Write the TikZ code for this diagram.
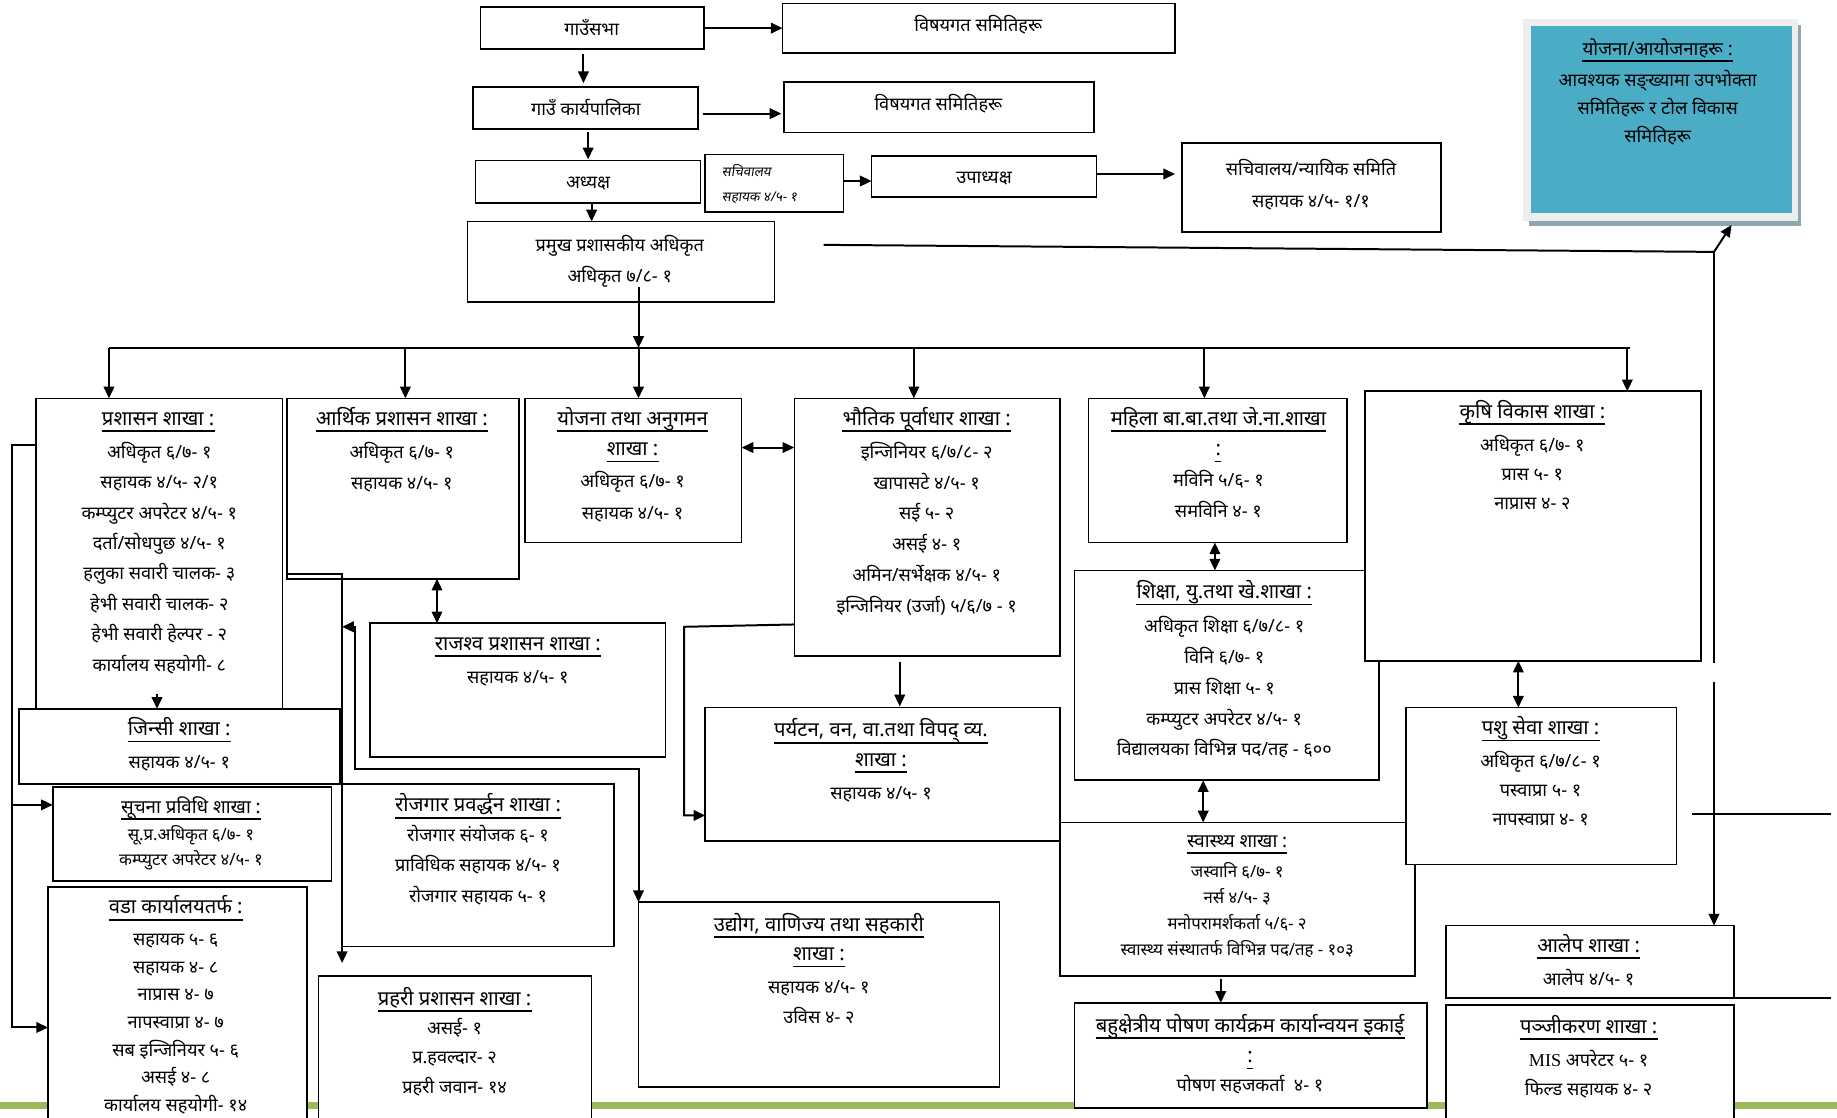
\documentclass[tikz,border=0pt]{standalone}
\usepackage{fontspec}
\setmainfont{Noto Sans}[Script=Devanagari]
\newfontfamily\devslant{Noto Sans}[Script=Devanagari,FakeSlant=0.15]
\newfontfamily\serifmis{Liberation Serif}
\usetikzlibrary{arrows.meta,calc}
\definecolor{aqua}{RGB}{75,172,198}
\definecolor{shadowc}{RGB}{142,166,176}
\definecolor{lightb}{RGB}{238,238,238}
\definecolor{grn}{RGB}{155,187,89}
\tikzset{
 box/.style={draw=black,fill=white,line width=1.4pt,inner sep=0pt,outer sep=0pt},
 ln/.style={line width=1.7pt},
 ar/.style={line width=1.7pt,-{Triangle[length=10pt,width=9pt]}},
 dar/.style={line width=1.7pt,{Triangle[length=10pt,width=9pt]}-{Triangle[length=10pt,width=9pt]}},
 txt/.style={inner sep=0pt,font=\fontsize{15.5}{18}\selectfont},
 small/.style={font=\fontsize{14.3}{16}\selectfont},
 ttl/.style={inner sep=0pt,font=\bfseries\fontsize{17.3}{20}\selectfont},
 smallttl/.style={font=\bfseries\fontsize{16}{18}\selectfont},
 uline/.style={line width=1.5pt},
}
\newcommand\OBox[5]{\node[box,anchor=north west,minimum width={(#4-#2)*1pt},minimum height={(#5-#3)*1pt}] (#1) at (#2,#3) {};}
\newcommand\Tl[5][]{\node[txt,#1,anchor=base] (#2) at (#3,#4) {#5};}
\newcommand\Ttl[5][]{\node[ttl,#1,anchor=base] (#2) at (#3,#4) {#5};
 \draw[uline] ([yshift=-5pt]#2.base west) -- ([yshift=-5pt]#2.base east);}
\newcommand\Lines[6][]{\foreach \s [count=\i] in {#6} {\node[txt,#1,anchor=base] (#2\i) at (#3,{#4+5+(\i-1)*#5}) {\s};}}
\begin{document}
\begin{tikzpicture}[x=1pt,y=-1pt]
\clip (0,0) rectangle (1568,954);
\fill[white] (0,0) rectangle (1568,954);
\fill[grn] (0,940.5) rectangle (1568,946.5);
% ---------- boxes ----------
\OBox{sabha}{410}{6}{601}{42}
\OBox{viA}{668}{3}{1003}{45}
\OBox{karya}{404}{74}{596}{110}
\OBox{viB}{669}{70}{934}{113}
\OBox{adhy}{406}{137}{598}{173}
\OBox{sach}{602}{132}{720}{181}
\OBox{upa}{744}{133}{936}{168}
\OBox{nyay}{1009}{122}{1230}{198}
\fill[shadowc] (1305,21) rectangle (1537,193);
\fill[lightb] (1300,16) rectangle (1535,189);
\node[fill=aqua,inner sep=0pt,anchor=north west,minimum width=222pt,minimum height=160pt] (yoj) at (1307,22) {};
\OBox{cao}{399}{189}{661}{258}
\OBox{prash}{31}{340}{241}{605}
\OBox{arth}{245}{340}{443}{494}
\OBox{yojana}{448}{340}{633}{463}
\OBox{bhau}{678}{340}{905}{560}
\OBox{mahila}{929}{340}{1150}{463}
\OBox{shiksha}{917}{487}{1177}{666}
\OBox{krishi}{1165}{334}{1452}{564}
\OBox{jinsi}{16}{605}{290}{669}
\OBox{suchana}{45}{672}{283}{752}
\OBox{wada}{41}{757}{262}{965}
\OBox{raj}{316}{532}{568}{646}
\OBox{rojgar}{292}{669}{524}{808}
\OBox{prahari}{272}{833}{505}{965}
\OBox{udyog}{545}{770}{853}{928}
\OBox{parya}{602}{604}{905}{718}
\OBox{swas}{905}{702}{1208}{833}
\OBox{bahu}{917}{856}{1218}{946}
\OBox{pashu}{1200}{604}{1431}{738}
\OBox{alep}{1234}{790}{1480}{852}
\OBox{panji}{1234}{858}{1480}{965}
% ---------- texts ----------
\Tl{tsabha}{505}{30}{गाउँसभा}
\Tl{tviA}{835}{27}{विषयगत समितिहरू}
\Tl{tkarya}{500}{99}{गाउँ कार्यपालिका}
\Tl{tviB}{801}{94}{विषयगत समितिहरू}
\Tl{tadhy}{502}{161}{अध्यक्ष}
\node[inner sep=0pt,anchor=base west,font=\devslant\bfseries\fontsize{11.5}{13}\selectfont] (ts1) at (616,151) {सचिवालय};
\node[inner sep=0pt,anchor=base west,font=\devslant\bfseries\fontsize{11.5}{13}\selectfont] (ts2) at (616,172) {सहायक ४/५- १};
\Tl{tupa}{840}{157}{उपाध्यक्ष}
\Lines{tny}{1119}{145}{27}{सचिवालय/न्यायिक समिति,सहायक ४/५- १/१}
\Ttl[smallttl]{tyoj}{1415}{47}{योजना/आयोजनाहरू :}
\Lines{tyj}{1415}{69}{24}{आवश्यक सङ्ख्यामा उपभोक्ता,समितिहरू र टोल विकास,समितिहरू}
\Lines{tcao}{529}{210}{26}{प्रमुख प्रशासकीय अधिकृत,अधिकृत ७/८- १}
\Ttl{tprash}{135}{363}{प्रशासन शाखा :}
\Lines{tpr}{136}{386}{26}{अधिकृत ६/७- १,सहायक ४/५- २/१,कम्प्युटर अपरेटर ४/५- १,दर्ता/सोधपुछ ४/५- १,हलुका सवारी चालक- ३,हेभी सवारी चालक- २,हेभी सवारी हेल्पर - २,कार्यालय सहयोगी- ८}
\Ttl{tarth}{343}{363}{आर्थिक प्रशासन शाखा :}
\Lines{tar}{343}{386}{27}{अधिकृत ६/७- १,सहायक ४/५- १}
\Ttl{tyojana}{540}{363}{योजना तथा अनुगमन}
\Ttl{tyojanb}{540}{389}{शाखा :}
\Lines{tyo}{540}{411}{27}{अधिकृत ६/७- १,सहायक ४/५- १}
\Ttl{tbhau}{791}{363}{भौतिक पूर्वाधार शाखा :}
\Lines{tbh}{791}{386}{26.4}{इन्जिनियर ६/७/८- २,खापासटे ४/५- १,सई ५- २,असई ४- १,अमिन/सर्भेक्षक ४/५- १,इन्जिनियर (उर्जा) ५/६/७ - १}
\Ttl{tmahila}{1040}{363}{महिला बा.बा.तथा जे.ना.शाखा}
\Ttl{tmahilb}{1040}{389}{:}
\Lines{tma}{1040}{410}{27}{मविनि ५/६- १,समविनि ४- १}
\Ttl{tkrishi}{1308}{357}{कृषि विकास शाखा :}
\Lines{tkr}{1308}{380}{25}{अधिकृत ६/७- १,प्रास ५- १,नाप्रास ४- २}
\Ttl{tshiksha}{1045}{511}{शिक्षा, यु.तथा खे.शाखा :}
\Lines{tsh}{1045}{535}{26.3}{अधिकृत शिक्षा ६/७/८- १,विनि ६/७- १,प्रास शिक्षा ५- १,कम्प्युटर अपरेटर ४/५- १,विद्यालयका विभिन्न पद/तह - ६००}
\Ttl{tjinsi}{153}{628}{जिन्सी शाखा :}
\Lines{tji}{153}{651}{26}{सहायक ४/५- १}
\Ttl[smallttl]{tsuchana}{163}{694}{सूचना प्रविधि शाखा :}
\Lines[small]{tsu}{163}{712}{22}{सू.प्र.अधिकृत ६/७- १,कम्प्युटर अपरेटर ४/५- १}
\Ttl{twada}{150}{780}{वडा कार्यालयतर्फ :}
\Lines{twa}{150}{802}{23.6}{सहायक ५- ६,सहायक ४- ८,नाप्रास ४- ७,नापस्वाप्रा ४- ७,सब इन्जिनियर ५- ६,असई ४- ८,कार्यालय सहयोगी- १४}
\Ttl{traj}{442}{555}{राजश्व प्रशासन शाखा :}
\Lines{tra}{442}{578}{26}{सहायक ४/५- १}
\Ttl{trojgar}{408}{693}{रोजगार प्रवर्द्धन शाखा :}
\Lines{tro}{408}{713}{26}{रोजगार संयोजक ६- १,प्राविधिक सहायक ४/५- १,रोजगार सहायक ५- १}
\Ttl{tprahari}{388}{858}{प्रहरी प्रशासन शाखा :}
\Lines{tph}{388}{878}{25}{असई- १,प्र.हवल्दार- २,प्रहरी जवान- १४}
\Ttl{tudyoga}{699}{795}{उद्योग, वाणिज्य तथा सहकारी}
\Ttl{tudyogb}{699}{820}{शाखा :}
\Lines{tud}{699}{843}{26}{सहायक ४/५- १,उविस ४- २}
\Ttl{tparyaa}{752}{629}{पर्यटन, वन, वा.तथा विपद् व्य.}
\Ttl{tparyab}{752}{654}{शाखा :}
\Lines{tpa}{752}{677}{26}{सहायक ४/५- १}
\Ttl[smallttl]{tswas}{1056}{723}{स्वास्थ्य शाखा :}
\Lines[small]{tsw}{1056}{744}{22.3}{जस्वानि ६/७- १,नर्स ४/५- ३,मनोपरामर्शकर्ता ५/६- २,स्वास्थ्य संस्थातर्फ विभिन्न पद/तह - १०३}
\Ttl{tbahua}{1067}{881}{बहुक्षेत्रीय पोषण कार्यक्रम कार्यान्वयन इकाई}
\Ttl{tbahub}{1067}{907}{:}
\Tl{tbahuc}{1067}{932}{पोषण सहजकर्ता\ \ ४- १}
\Ttl{tpashu}{1315}{627}{पशु सेवा शाखा :}
\Lines{tps}{1315}{650}{25}{अधिकृत ६/७/८- १,पस्वाप्रा ५- १,नापस्वाप्रा ४- १}
\Ttl{talep}{1356}{813}{आलेप शाखा :}
\Lines{tal}{1356}{836}{26}{आलेप ४/५- १}
\Ttl{tpanji}{1356}{882}{पञ्जीकरण शाखा :}
\Lines{tpj}{1356}{905}{25}{{\serifmis MIS} अपरेटर ५- १,फिल्ड सहायक ४- २}
% ---------- connectors ----------
\draw[ar] (sabha.east) -- (sabha.east -| viA.west);
\draw[ar,shorten <=4pt,shorten >=3pt] ([xshift=-7.5pt]sabha.south) -- ([xshift=-7.5pt]sabha.south |- karya.north);
\draw[ar,shorten <=4pt,shorten >=2pt] ([yshift=-5pt]karya.east) -- ([yshift=-5pt]karya.east -| viB.west);
\draw[ar,shorten <=3pt,shorten >=1pt] ([xshift=2pt]karya.south) -- ([xshift=2pt]karya.south |- adhy.north);
\draw[ar] ([yshift=2pt]sach.east) -- ([yshift=2pt]sach.east -| upa.west);
\draw[ar,shorten >=6pt] ([yshift=2pt]upa.east) -- ([yshift=2pt]upa.east -| nyay.west);
\draw[ar] ([xshift=3pt]adhy.south) -- ([xshift=3pt]adhy.south |- cao.north);
\coordinate (caoOut) at (545,245);
\coordinate (busL) at (93,297);
\coordinate (busR) at (1391,297);
\coordinate (b2) at (346,297);
\coordinate (busC) at (545,297);
\coordinate (b4) at (780,297);
\coordinate (b5) at (1028,297);
\coordinate (b6) at (1389,297);
\draw[ar] (caoOut) -- (busC);
\draw[ln] (busL) -- (busR);
\draw[ar] (busL) -- (busL |- prash.north);
\draw[ar] (b2) -- (b2 |- arth.north);
\draw[ar] (busC) -- (busC |- yojana.north);
\draw[ar] (b4) -- (b4 |- bhau.north);
\draw[ar] (b5) -- (b5 |- mahila.north);
\draw[ar] (b6) -- (b6 |- krishi.north);
% to blue box and alep
\coordinate (cl0) at (703,209);
\coordinate (cl1) at (1463,215);
\coordinate (yojIn) at (1478,192);
\coordinate (vg1) at (1463,566);
\coordinate (vg2) at (1463,582);
\draw[ar] (cl0) -- (cl1) -- (yojIn);
\draw[ln] (cl1) -- (vg1);
\draw[ar] (vg2) -- (vg2 |- alep.north);
% double arrows
\draw[dar] ($(yojana.north east)+(0,42)$) -- ($(bhau.north west)+(0,42)$);
\path (arth.south west) ++(128,0) coordinate (a1);
\draw[dar] (a1) -- (a1 |- raj.north);
\path (mahila.south west) ++(108,0) coordinate (m1);
\draw[dar] (m1) -- (m1 |- shiksha.north);
\path (shiksha.south west) ++(110,0) coordinate (s1);
\draw[dar] (s1) -- (s1 |- swas.north);
\path (krishi.south west) ++(131,0) coordinate (k1);
\draw[dar] (k1) -- (k1 |- pashu.north);
\path (swas.south west) ++(137,0) coordinate (w1);
\draw[ar,shorten <=3pt] (w1) -- (w1 |- bahu.north);
\path (bhau.south west) ++(90,0) coordinate (h1);
\draw[ar,shorten <=5pt,shorten >=1pt] (h1) -- (h1 |- parya.north);
\path (bhau.north west) ++(0,193) coordinate (h2);
\coordinate (h3) at (584,535);
\coordinate (h4) at (584,696);
\draw[ar] (h2) -- (h3) -- (h4) -- (h4 -| parya.west);
% left side
\path (prash.north west) ++(0,40) coordinate (p1);
\coordinate (p3) at (10,877);
\coordinate (p4) at (10,687);
\draw[ar] (p1) -| (p3) -- (p3 -| wada.west);
\draw[ar] (p4) -- (p4 -| suchana.west);
\path (prash.south west) ++(103,-13) coordinate (j1);
\draw[ar] (j1) -- (j1 |- jinsi.north);
\path (arth.south west) ++(0,-4) coordinate (q1);
\coordinate (q2) at (292,490);
\draw[ar,shorten >=11pt] (q1) -- (q2) -- (q2 |- prahari.north);
\coordinate (u1) at (292,535);
\coordinate (u2) at (303,535);
\coordinate (u3) at (303,656);
\coordinate (u4) at (545,656);
\draw[dar] (u1) -- (u2) -- (u3) -- (u4) -- (u4 |- udyog.north);
% right side lines
\coordinate (r1) at (1444,695);
\coordinate (r2) at (1563,695);
\coordinate (r3) at (1563,851);
\draw[ln] (r1) -- (r2);
\draw[ln] (alep.south east) -- (r3 |- alep.south east);
\end{tikzpicture}
\end{document}
